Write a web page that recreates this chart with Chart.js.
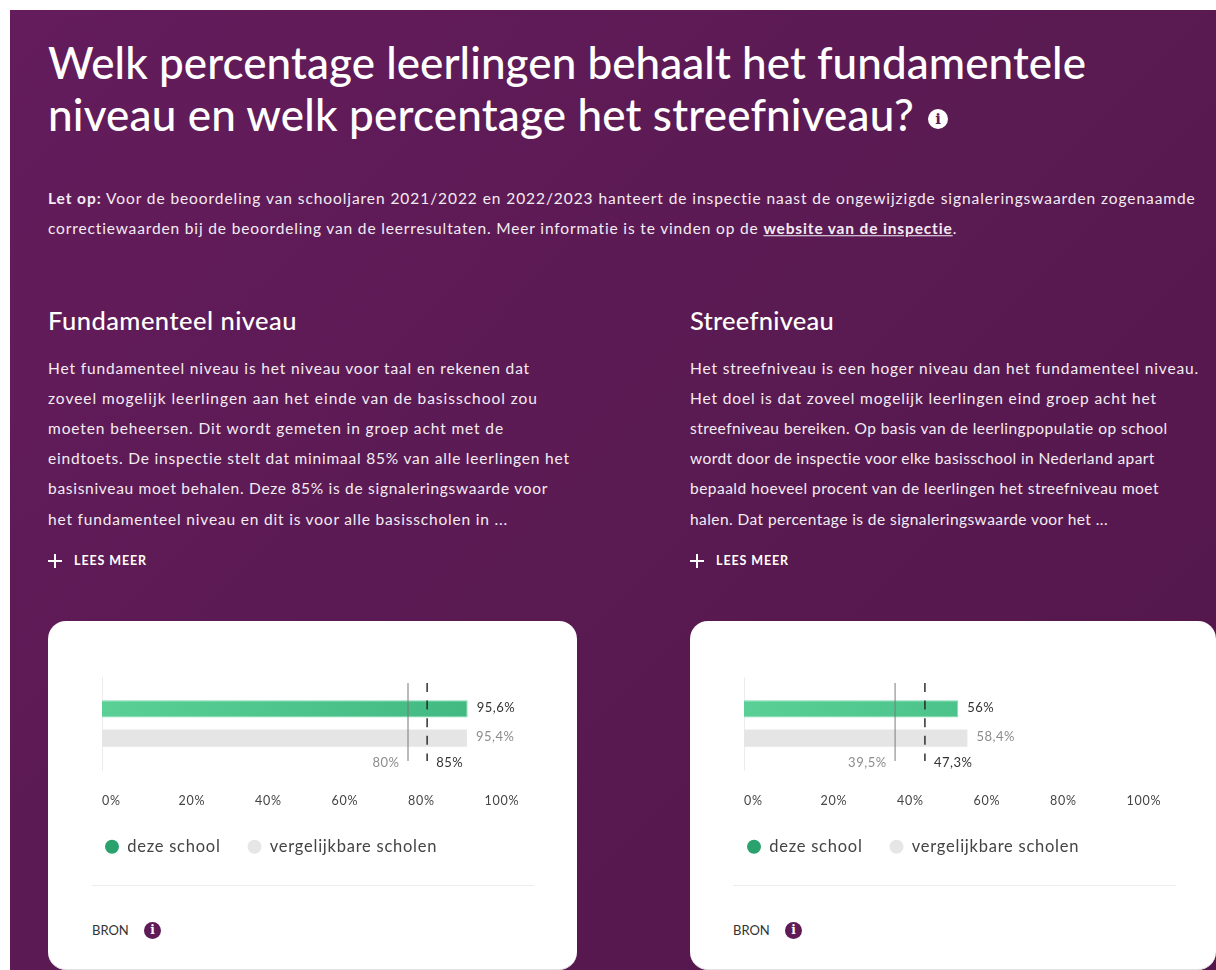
<!DOCTYPE html>
<html lang="nl"><head><meta charset="utf-8">
<script src="https://cdn.jsdelivr.net/npm/chart.js@4"></script>
<style>
html,body{margin:0;padding:0;background:#fff;width:1216px;height:970px;overflow:hidden;font-family:Lato,sans-serif}
#page{position:absolute;left:10px;top:10px;width:1206px;height:960px;background:linear-gradient(135deg,#641c5c 0%,#5a1a52 50%,#52164a 100%)}
.t{position:absolute;white-space:nowrap;color:#fff;line-height:1}
.title{font-size:44px;font-weight:500;transform:translateY(-50%)}
.body{font-size:15.5px;color:#f4ecf3;transform:translateY(-50%)}
.sub{font-size:25.5px;font-weight:500;transform:translateY(-50%)}
.more{font-size:12.5px;font-weight:700;transform:translateY(-50%)}
.card{position:absolute;background:#fff;top:621px;height:349px;border-radius:18px;box-sizing:border-box;border-bottom:1px solid #e2e2e2}
.sep{position:absolute;top:885px;height:1px;background:#ececec}
.bron{position:absolute;top:930px;font-size:13px;color:#333;transform:translateY(-50%);line-height:1;white-space:nowrap}
.ic{position:absolute;border-radius:50%;display:block;text-align:center;font-family:"DejaVu Serif",serif;font-weight:700}
.plus{position:absolute;width:14px;height:2px;background:#fff}
.plus:after{content:"";position:absolute;left:6px;top:-6px;width:2px;height:14px;background:#fff}
canvas{position:absolute}
u{font-weight:700}
</style></head><body>
<div id="page"></div>
<div class="t title" style="left:48px;top:62px" data-end="1086">Welk percentage leerlingen behaalt het fundamentele</div>
<div class="t title" style="left:48px;top:114px" data-end="914">niveau en welk percentage het streefniveau?</div>
<span class="ic" style="left:928px;top:109px;width:20px;height:20px;background:#fff;color:#5f1a58;font-size:15px;line-height:20px">i</span>
<div class="t body" style="left:48px;top:199px" data-end="1196"><b>Let op:</b> Voor de beoordeling van schooljaren 2021/2022 en 2022/2023 hanteert de inspectie naast de ongewijzigde signaleringswaarden zogenaamde</div>
<div class="t body" style="left:48px;top:229px" data-end="958">correctiewaarden bij de beoordeling van de leerresultaten. Meer informatie is te vinden op de <u>website van de inspectie</u>.</div>

<div class="t sub" style="left:48px;top:321px" data-end="297">Fundamenteel niveau</div>
<div class="t sub" style="left:690px;top:321px" data-end="834">Streefniveau</div>

<div class="t body" style="left:48px;top:369px" data-end="530">Het fundamenteel niveau is het niveau voor taal en rekenen dat</div>
<div class="t body" style="left:48px;top:399px" data-end="538">zoveel mogelijk leerlingen aan het einde van de basisschool zou</div>
<div class="t body" style="left:48px;top:429px" data-end="504">moeten beheersen. Dit wordt gemeten in groep acht met de</div>
<div class="t body" style="left:48px;top:459px" data-end="570">eindtoets. De inspectie stelt dat minimaal 85% van alle leerlingen het</div>
<div class="t body" style="left:48px;top:489px" data-end="548">basisniveau moet behalen. Deze 85% is de signaleringswaarde voor</div>
<div class="t body" style="left:48px;top:520px" data-end="508">het fundamenteel niveau en dit is voor alle basisscholen in ...</div>

<div class="t body" style="left:690px;top:369px" data-end="1199">Het streefniveau is een hoger niveau dan het fundamenteel niveau.</div>
<div class="t body" style="left:690px;top:399px" data-end="1157">Het doel is dat zoveel mogelijk leerlingen eind groep acht het</div>
<div class="t body" style="left:690px;top:429px" data-end="1168">streefniveau bereiken. Op basis van de leerlingpopulatie op school</div>
<div class="t body" style="left:690px;top:459px" data-end="1155">wordt door de inspectie voor elke basisschool in Nederland apart</div>
<div class="t body" style="left:690px;top:489px" data-end="1159">bepaald hoeveel procent van de leerlingen het streefniveau moet</div>
<div class="t body" style="left:690px;top:520px" data-end="1108">halen. Dat percentage is de signaleringswaarde voor het ...</div>

<div class="plus" style="left:48px;top:560px"></div>
<div class="t more" style="left:74px;top:560.5px" data-end="147">LEES MEER</div>
<div class="plus" style="left:690px;top:560px"></div>
<div class="t more" style="left:716px;top:560.5px" data-end="789">LEES MEER</div>

<div class="card" style="left:48px;width:529px"></div>
<div class="card" style="left:690px;width:526px"></div>
<canvas id="c0" width="452" height="205" style="left:78px;top:660px"></canvas>
<canvas id="c1" width="452" height="205" style="left:720.3px;top:660px"></canvas>
<div class="sep" style="left:92px;width:442px"></div>
<div class="sep" style="left:733px;width:443px"></div>
<div class="bron" style="left:92px">BRON</div>
<span class="ic" style="left:144px;top:922px;width:17px;height:17px;background:#5f1a58;color:#fff;font-size:12px;line-height:17px">i</span>
<div class="bron" style="left:733px">BRON</div>
<span class="ic" style="left:785px;top:922px;width:17px;height:17px;background:#5f1a58;color:#fff;font-size:12px;line-height:17px">i</span>

<script>
const categories = ['Fundamenteel niveau', 'Streefniveau'];
const seriesNames = ['deze school', 'vergelijkbare scholen'];
const schoolValues = [95.6, 56];
const comparableValues = [95.4, 58.4];
const comparableThresholds = [80, 39.5];
const inspectionThresholds = [85, 47.3];
const tickValues = [0, 20, 40, 60, 80, 100];
const solidLineWidths = [2, 1];
const solidLineColors = ['rgba(120,120,120,.5)', '#7d7d7d'];
const legendColors = ['#2aa26d', '#e6e6e6'];

function pct(v){ return String(v).replace('.', ',') + '%'; }

document.querySelectorAll('[data-end]').forEach(function(el){
  const r = el.getBoundingClientRect();
  const target = +el.dataset.end - r.left;
  el.style.letterSpacing = ((target - r.width) / el.textContent.length) + 'px';
});

const spacing = {
  id: 'spacing',
  beforeLayout(chart) { chart.ctx.letterSpacing = '0.75px'; },
  beforeDraw(chart) { chart.ctx.letterSpacing = '0.75px'; }
};

const markers = {
  id: 'markers',
  afterDatasetsDraw(chart, args, opts) {
    const c = chart.ctx, x = chart.scales.x, area = chart.chartArea, i = opts.index;
    const top = area.top + 6, bottom = area.bottom - 9, lowX = x.getPixelForValue(comparableThresholds[i]), highX = x.getPixelForValue(inspectionThresholds[i]);
    c.save();
    c.strokeStyle = solidLineColors[i]; c.lineWidth = solidLineWidths[i];
    c.beginPath(); c.moveTo(lowX, top); c.lineTo(lowX, bottom); c.stroke();
    c.strokeStyle = '#222'; c.lineWidth = 1.4; c.setLineDash([9, 8.6]);
    c.beginPath(); c.moveTo(highX, top); c.lineTo(highX, bottom); c.stroke();
    c.setLineDash([]);
    c.letterSpacing = '0.5px';
    c.font = '13px Lato, sans-serif'; c.textBaseline = 'middle';
    const bars = [chart.getDatasetMeta(0).data[0], chart.getDatasetMeta(1).data[0]];
    c.textAlign = 'left';
    c.fillStyle = '#333'; c.fillText(pct(schoolValues[i]), x.getPixelForValue(schoolValues[i]) + 9, bars[0].y - 1.5);
    c.fillStyle = '#8c8c8c'; c.fillText(pct(comparableValues[i]), x.getPixelForValue(comparableValues[i]) + 9, bars[1].y - 1.5);
    c.fillStyle = '#333'; c.fillText(pct(inspectionThresholds[i]), highX + 9, bottom + 1.5);
    c.textAlign = 'right';
    c.fillStyle = '#8c8c8c'; c.fillText(pct(comparableThresholds[i]), lowX - 8.5, bottom + 1.5);
    c.restore();
  }
};

function greenFill(ctx) {
  const a = ctx.chart.chartArea;
  if (!a) return '#4bc68a';
  const g = ctx.chart.ctx.createLinearGradient(a.left, a.top, a.right, a.bottom);
  g.addColorStop(0, '#5ad096'); g.addColorStop(1, '#3fb880');
  return g;
}

categories.forEach(function(cat, i){
  const canvas = document.getElementById('c' + i);
  new Chart(canvas, {
    type: 'bar',
    plugins: [spacing, markers],
    data: {
      labels: [cat],
      datasets: [
        { label: seriesNames[0], data: [schoolValues[i]], backgroundColor: greenFill, borderColor: '#7bdcae', borderWidth: 1, categoryPercentage: 0.628, barPercentage: 0.593 },
        { label: seriesNames[1], data: [comparableValues[i]], backgroundColor: '#e5e5e5', categoryPercentage: 0.628, barPercentage: 0.593 }
      ]
    },
    options: {
      indexAxis: 'y', responsive: false, animation: false,
      layout: { padding: { top: 17, right: 45.5, left: 0, bottom: 0 } },
      scales: {
        x: {
          min: 0, max: 100, grid: { display: false, drawTicks: false }, border: { display: false },
          afterBuildTicks(s){ s.ticks = tickValues.map(function(v){ return { value: v }; }); },
          afterFit(s){ s.height = 41.5; s.paddingRight = 0; s.paddingLeft = 0; },
          ticks: { align: 'start', padding: 23, maxRotation: 0, autoSkip: false, color: '#444', font: { family: 'Lato, sans-serif', size: 12.5 }, callback: function(v){ return v + '%'; } }
        },
        y: {
          grid: { display: false, drawTicks: false }, border: { display: true, color: '#ececec', width: 1 },
          ticks: { display: false },
          afterFit(s){ s.width = 24; }
        }
      },
      plugins: {
        markers: { index: i },
        tooltip: { enabled: false },
        legend: {
          position: 'bottom', align: 'start',
          labels: {
            usePointStyle: true, boxHeight: 10, pointStyleWidth: 14, padding: 27,
            color: '#444', font: { family: 'Lato, sans-serif', size: 16.5 },
            generateLabels(){ return seriesNames.map(function(n, k){ return { text: n, fillStyle: legendColors[k], strokeStyle: legendColors[k], lineWidth: 0, pointStyle: 'circle', datasetIndex: k, fontColor: '#444' }; }); }
          }
        }
      }
    }
  });
});
</script>
</body></html>
